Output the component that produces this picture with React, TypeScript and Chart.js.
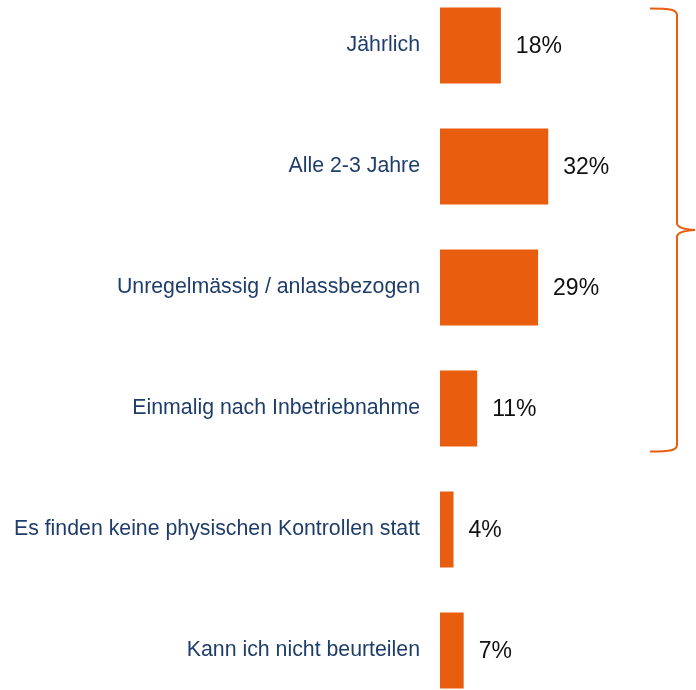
import React, { useEffect, useRef } from "react";
import { Chart, registerables } from "chart.js";

Chart.register(...registerables);

const categories = [
  "Jährlich",
  "Alle 2-3 Jahre",
  "Unregelmässig / anlassbezogen",
  "Einmalig nach Inbetriebnahme",
  "Es finden keine physischen Kontrollen statt",
  "Kann ich nicht beurteilen",
];
const values = [18, 32, 29, 11, 4, 7];
const bracedCount = 4;

const ORANGE = "#E95D0F";
const BLUE = "#1F3D6B";

const valueLabelPlugin = {
  id: "valueLabels",
  afterDatasetsDraw(chart: any) {
    const ctx = chart.ctx;
    const meta = chart.getDatasetMeta(0);
    ctx.save();
    ctx.font = "23px 'Liberation Sans', Arial, sans-serif";
    ctx.fillStyle = "#111111";
    ctx.textAlign = "left";
    ctx.textBaseline = "middle";
    meta.data.forEach((bar: any, i: number) => {
      ctx.fillText(values[i] + "%", bar.x + 15, bar.y + 1);
    });
    ctx.restore();
  },
};

const bracePlugin = {
  id: "brace",
  afterDraw(chart: any) {
    const meta = chart.getDatasetMeta(0);
    const first = meta.data[0];
    const last = meta.data[bracedCount - 1];
    const top = first.y - first.height / 2 + 1;
    const bottom = last.y + last.height / 2 + 5;
    const mid = (top + bottom) / 2;
    const right = chart.chartArea.right;
    const xv = right - 19;
    const x0 = right - 46;
    const xt = right - 1;
    const ctx = chart.ctx;
    ctx.save();
    ctx.strokeStyle = ORANGE;
    ctx.lineWidth = 2;
    ctx.beginPath();
    ctx.moveTo(x0, top);
    ctx.bezierCurveTo(xv - 6, top, xv, top + 1, xv, top + 7);
    ctx.lineTo(xv, mid - 7);
    ctx.quadraticCurveTo(xv, mid - 1, xt, mid);
    ctx.moveTo(xt, mid);
    ctx.quadraticCurveTo(xv, mid + 1, xv, mid + 7);
    ctx.lineTo(xv, bottom - 7);
    ctx.bezierCurveTo(xv, bottom - 1, xv - 6, bottom, x0, bottom);
    ctx.stroke();
    ctx.restore();
  },
};

export default function App() {
  const ref = useRef<HTMLCanvasElement>(null);
  useEffect(() => {
    if (!ref.current) return;
    const chart = new Chart(ref.current, {
      type: "bar",
      data: {
        labels: categories,
        datasets: [
          {
            data: values,
            backgroundColor: ORANGE,
            borderWidth: 0,
            categoryPercentage: 1,
            barPercentage: 0.628,
          },
        ],
      },
      options: {
        indexAxis: "y",
        animation: false,
        responsive: false,
        devicePixelRatio: 1,
        layout: { padding: 0 },
        plugins: { legend: { display: false }, tooltip: { enabled: false } },
        scales: {
          x: { display: false, min: 0, max: 75.7 },
          y: {
            afterFit: (scale: any) => {
              scale.width = 440;
              scale.paddingTop = 0;
              scale.paddingBottom = 0;
            },
            grid: { display: false, drawTicks: false, tickLength: 0 },
            border: { display: false },
            ticks: {
              color: BLUE,
              padding: 20,
              font: { family: "'Liberation Sans', Arial, sans-serif", size: 21.3 },
            },
          },
        },
      },
      plugins: [valueLabelPlugin, bracePlugin],
    });
    return () => chart.destroy();
  }, []);
  return (
    <div
      style={{
        position: "fixed",
        left: 0,
        top: 0,
        width: 696,
        height: 690,
        overflow: "hidden",
        background: "#fff",
      }}
    >
      <canvas
        ref={ref}
        width={696}
        height={726}
        style={{ position: "absolute", left: 0, top: -15, display: "block" }}
      />
    </div>
  );
}
